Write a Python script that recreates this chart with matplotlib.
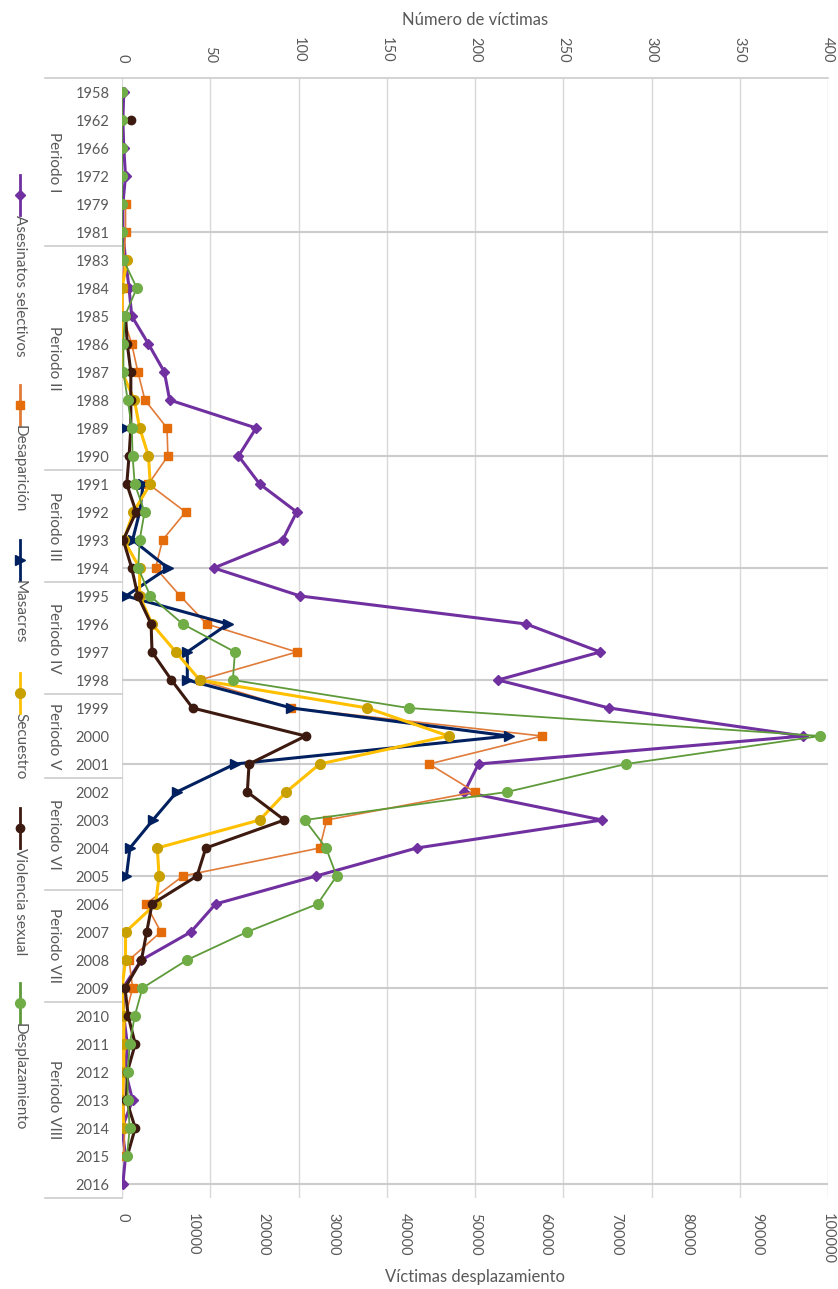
import numpy as np
import matplotlib
matplotlib.use('Agg')
import matplotlib.pyplot as plt
from matplotlib.lines import Line2D

plt.rcParams['font.family'] = ['Lato', 'DejaVu Sans']
gris = '#595959'

nan = np.nan
years = [1958, 1962, 1966, 1972, 1979, 1981,
         1983, 1984, 1985, 1986, 1987, 1988, 1989, 1990,
         1991, 1992, 1993, 1994,
         1995, 1996, 1997, 1998,
         1999, 2000, 2001,
         2002, 2003, 2004, 2005,
         2006, 2007, 2008, 2009,
         2010, 2011, 2012, 2013, 2014, 2015, 2016]
periodos = ['Periodo I', 'Periodo II', 'Periodo III', 'Periodo IV',
            'Periodo V', 'Periodo VI', 'Periodo VII', 'Periodo VIII']
periodo_n = [6, 8, 4, 4, 3, 4, 4, 7]

# numero de victimas (eje superior)
asesinatos = [1, 0.5, 1, 2, 0.5, 0.5,
              2, 4, 5.5, 15, 24, 27, 76, 66,
              78, 99, 91, 52,
              101, 229, 271, 213,
              276, 386, 202,
              194, 272, 167, 110,
              53, 39, 11, 0.5,
              1, 3, 2, 6, 0, 2, 0.5]
desaparicion = [nan, nan, nan, nan, 2, 2,
                1, 0.5, 0.5, 5.5, 9, 13, 25.5, 26,
                15, 36, 23, 19,
                33, 48, 99, 44,
                96, 238, 174,
                200, 116, 112, 34.5,
                13.5, 22, 4, 6,
                2, 0.5, 1, 1, 1.5, 1, nan]
masacres = [nan, nan, nan, nan, nan, nan,
            nan, nan, nan, nan, nan, nan, 1.5, nan,
            12, 10, 6, 26,
            2.3, 60, 37, 37,
            96, 219, 64,
            31, 17.5, 4.5, 2.5,
            nan, nan, nan, nan,
            nan, nan, nan, nan, nan, nan, nan]
secuestro = [nan, nan, nan, nan, nan, nan,
             3, 0, 0, 0, 0, 7, 10, 15,
             16, 6.5, 1, 10,
             10, 17, 30.5, 44,
             139, 185, 112,
             93, 78, 20, 21,
             19, 2, 2, 0,
             1, 1, 1, 0, 1, nan, nan]
violencia = [nan, 5, nan, nan, nan, nan,
             nan, nan, 2, 3, 5, 5, 5, 4,
             2.7, 8, 0.7, 5.5,
             9, 16.5, 17, 28,
             40, 104, 72,
             71, 92, 47.5, 42.5,
             17, 14, 11, 1.7,
             3.5, 7.5, 3, 2.5, 7.5, 3, nan]
# victimas desplazamiento (eje inferior)
desplazamiento = [0, 0, 0, 0, 0, 0,
                  200, 2100, 400, 200, 200, 800, 1400, 1500,
                  1800, 3200, 2500, 2300,
                  4000, 8600, 16000, 15700,
                  40600, 98900, 71400,
                  54500, 25900, 28900, 30400,
                  27700, 17700, 9200, 2900,
                  1800, 1100, 800, 800, 1100, 700, nan]

series = [
    ('Asesinatos selectivos', asesinatos, '#7030A0', '#7030A0', 'D', 5, 2.2),
    ('Desaparición', desaparicion, '#E07B39', '#E46C0A', 's', 6, 1.2),
    ('Masacres', masacres, '#002060', '#002060', '>', 7, 2.2),
    ('Secuestro', secuestro, '#FFC000', '#C8A000', 'o', 7, 2.2),
    ('Violencia sexual', violencia, '#3D1A10', '#3D1A10', 'o', 6, 2.2),
]

W, H = 838, 1289
fig = plt.figure(figsize=(W / 100, H / 100), dpi=100)
ax = fig.add_axes([122 / W, 1 - 1198 / H, 706 / W, 1120 / H])
ax2 = ax.twiny()

y = np.arange(len(years))
for nombre, vals, c, mc, m, ms, lw in series:
    ax.plot(vals, y, color=c, lw=lw, marker=m, ms=ms, mfc=mc, mec=mc, zorder=3)
ax2.plot(desplazamiento, y, color='#5E9A3A', lw=1.3, marker='o', ms=7,
         mfc='#70AD47', mec='#70AD47', zorder=3)

ax.set_ylim(len(years) - 0.5, -0.5)
ax.set_xlim(0, 400)
ax2.set_xlim(0, 100000)

ax.set_xticks(np.arange(0, 401, 50))
ax.xaxis.tick_top()
ax.tick_params(axis='x', length=0, pad=11, labelsize=10.5, labelcolor=gris, labelrotation=-90)
ax.set_yticks(y)
ax.set_yticklabels([str(a) for a in years])
ax.tick_params(axis='y', length=0, pad=9, labelsize=10.5, labelcolor=gris)
ax.grid(axis='x', color='#d9d9d9', lw=1)
ax.set_axisbelow(True)

ax2.set_xticks(np.arange(0, 100001, 10000))
ax2.xaxis.tick_bottom()
ax2.tick_params(axis='x', length=0, pad=11, labelsize=10.5, labelcolor=gris, labelrotation=-90)
for t in ax2.get_xticklabels():
    t.set_va('top')

for a in (ax, ax2):
    for s in a.spines.values():
        s.set_visible(False)

# lineas de los periodos
fin = np.cumsum(periodo_n) - 1
for e in fin:
    ax.axhline(e, color='#cccccc', lw=1.5, zorder=1)
bordes = np.concatenate([[0], np.cumsum(periodo_n)]) - 0.5
tr = ax.get_yaxis_transform()
for b in bordes:
    x1 = 1 if b == bordes[0] else 0
    ax.plot([-0.109, x1], [b, b], transform=tr, clip_on=False, color='#cccccc', lw=1.2)
ini = np.concatenate([[0], np.cumsum(periodo_n)[:-1]])
for p, i0, n in zip(periodos, ini, periodo_n):
    ax.text(-0.097, i0 + (n - 1) / 2, p, transform=tr, rotation=-90,
            ha='center', va='center', fontsize=11, color=gris)

fig.text(475 / W, 1 - 20 / H, 'Número de víctimas', ha='center', va='center',
         fontsize=12, color=gris)
fig.text(475 / W, 1 - 1277 / H, 'Víctimas desplazamiento', ha='center', va='center',
         fontsize=12, color=gris)

# leyenda vertical
ley = [(s[0], s[2], s[3], s[4], s[5]) for s in series]
ley.append(('Desplazamiento', '#5E9A3A', '#70AD47', 'o', 7))
tops = [175, 385, 540, 673, 808, 983]
lx = 20 / W
for (nombre, c, mc, m, ms), t in zip(ley, tops):
    fig.add_artist(Line2D([lx, lx], [1 - t / H, 1 - (t + 40) / H], color=c, lw=2,
                          transform=fig.transFigure))
    fig.add_artist(Line2D([lx], [1 - (t + 20) / H], marker=m, ms=ms, mfc=mc, mec=mc,
                          transform=fig.transFigure))
    fig.text(lx, 1 - (t + 40) / H, nombre, rotation=-90, ha='center', va='top',
             fontsize=11, color=gris)

fig.savefig('out.png', dpi=100)
